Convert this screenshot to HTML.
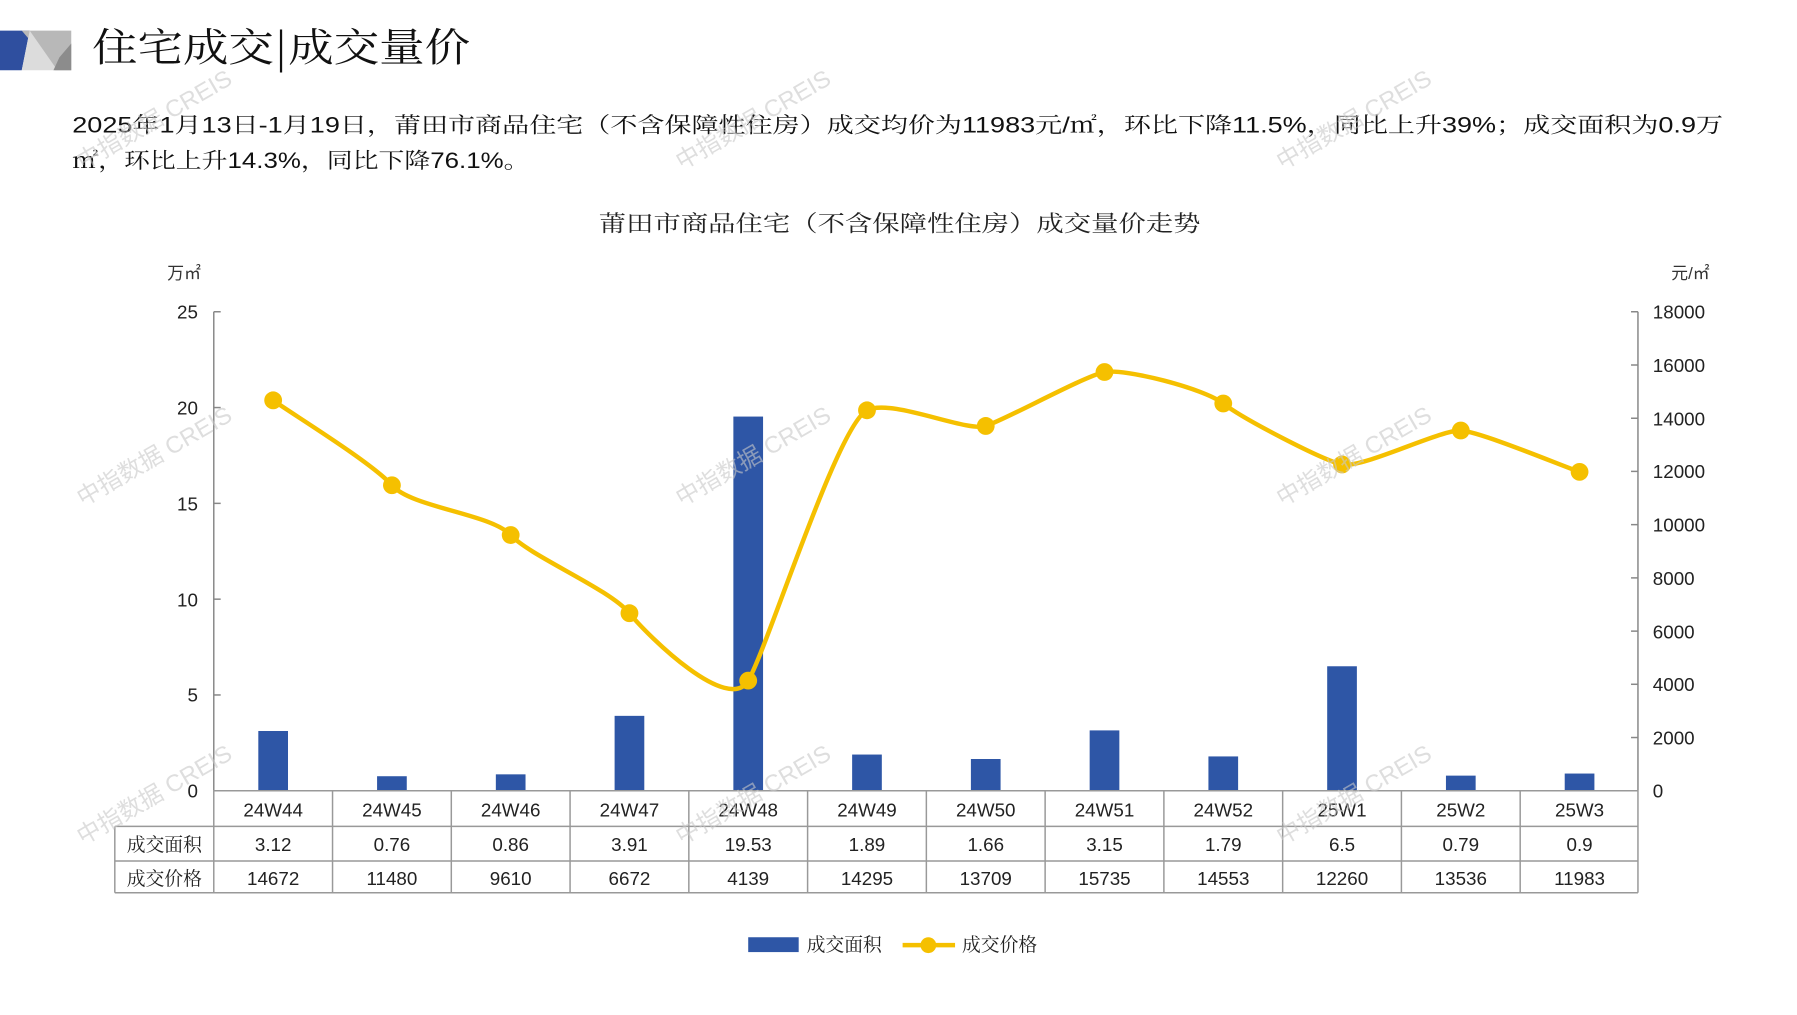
<!DOCTYPE html>
<html><head><meta charset="utf-8"><style>
html,body{margin:0;padding:0;background:#fff;}
body{width:1797px;height:1010px;position:relative;overflow:hidden;}
</style></head><body>
<svg width="1797" height="1010" viewBox="0 0 1797 1010" xmlns="http://www.w3.org/2000/svg" font-family="Liberation Sans, Noto Sans CJK SC, sans-serif">
<g transform="scale(0.9897)">
<!-- header icon -->
<polygon points="0,31 30,31 22,71 0,71" fill="#2f4f9f"/>
<polygon points="22,31 72,31 72,71 56,71" fill="#b8b8b8"/>
<polygon points="30,31 58,71 22,71" fill="#dcdcdc"/>
<polygon points="72,44 72,71 54,71 60,58" fill="#8c8c8c"/>
<text x="93" y="62" font-size="40" fill="#111" font-family="Noto Serif CJK SC, serif" textLength="382" lengthAdjust="spacingAndGlyphs">住宅成交|成交量价</text>
<!-- paragraph -->
<text x="73" y="134" font-size="22" fill="#111" font-family="Liberation Sans, Noto Serif CJK SC, serif" textLength="1668" lengthAdjust="spacingAndGlyphs">2025年1月13日-1月19日，莆田市商品住宅（不含保障性住房）成交均价为11983元/㎡，环比下降11.5%，同比上升39%；成交面积为0.9万</text>
<text x="73" y="170" font-size="22" fill="#111" font-family="Liberation Sans, Noto Serif CJK SC, serif" textLength="462" lengthAdjust="spacingAndGlyphs">㎡，环比上升14.3%，同比下降76.1%。</text>
<!-- chart title -->
<text x="605" y="234" font-size="23" fill="#222" font-family="Noto Serif CJK SC, serif" textLength="608" lengthAdjust="spacingAndGlyphs">莆田市商品住宅（不含保障性住房）成交量价走势</text>
<text x="186" y="282" font-size="17" fill="#333" text-anchor="middle">万㎡</text>
<text x="1708" y="282" font-size="17" fill="#333" text-anchor="middle">元/㎡</text>
<!-- axes -->
<g stroke="#888" stroke-width="1.5">
<line x1="216" y1="315" x2="216" y2="799"/>
<line x1="1655" y1="315" x2="1655" y2="799"/>
<line x1="216" y1="315" x2="223" y2="315"/><line x1="216" y1="411.8" x2="223" y2="411.8"/><line x1="216" y1="508.6" x2="223" y2="508.6"/><line x1="216" y1="605.4" x2="223" y2="605.4"/><line x1="216" y1="702.2" x2="223" y2="702.2"/>
<line x1="1648" y1="315" x2="1655" y2="315"/><line x1="1648" y1="368.8" x2="1655" y2="368.8"/><line x1="1648" y1="422.6" x2="1655" y2="422.6"/><line x1="1648" y1="476.3" x2="1655" y2="476.3"/><line x1="1648" y1="530.1" x2="1655" y2="530.1"/><line x1="1648" y1="583.9" x2="1655" y2="583.9"/><line x1="1648" y1="637.7" x2="1655" y2="637.7"/><line x1="1648" y1="691.4" x2="1655" y2="691.4"/><line x1="1648" y1="745.2" x2="1655" y2="745.2"/>
</g>
<g font-size="19" fill="#222" text-anchor="end">
<text x="200" y="322">25</text><text x="200" y="419">20</text><text x="200" y="516">15</text><text x="200" y="613">10</text><text x="200" y="709">5</text><text x="200" y="806">0</text>
</g>
<g font-size="19" fill="#222">
<text x="1670" y="322">18000</text><text x="1670" y="376">16000</text><text x="1670" y="430">14000</text><text x="1670" y="483">12000</text><text x="1670" y="537">10000</text><text x="1670" y="591">8000</text><text x="1670" y="645">6000</text><text x="1670" y="698">4000</text><text x="1670" y="752">2000</text><text x="1670" y="806">0</text>
</g>
<!-- bars -->
<g fill="#2e56a6">
<rect x="261" y="738.6" width="30" height="60.4"/>
<rect x="381" y="784.3" width="30" height="14.7"/>
<rect x="501" y="782.4" width="30" height="16.6"/>
<rect x="621" y="723.3" width="30" height="75.7"/>
<rect x="741" y="420.9" width="30" height="378.1"/>
<rect x="861" y="762.4" width="30" height="36.6"/>
<rect x="981" y="766.9" width="30" height="32.1"/>
<rect x="1101" y="738" width="30" height="61"/>
<rect x="1221" y="764.3" width="30" height="34.7"/>
<rect x="1341" y="673.2" width="30" height="125.8"/>
<rect x="1461" y="783.7" width="30" height="15.3"/>
<rect x="1581" y="781.6" width="30" height="17.4"/>
</g>
<!-- line -->
<path d="M276,404.5 C296,418.8 376,467.6 396,490.3 C416,513 496,519 516,540.6 C536,562.2 616,595.1 636,619.6 C656,644.1 736,721.9 756,687.7 C776,653.5 846,430 876,414.6 C900,402 976,436.9 996,430.4 C1016,424 1096,379.7 1116,375.9 C1136,372.1 1216,392.1 1236,407.7 C1256,423.3 1336,464.8 1356,469.3 C1376,473.8 1456,433.8 1476,435 C1496,436.3 1576,469.8 1596,476.8" fill="none" stroke="#f5c000" stroke-width="4.5"/>
<g fill="#f5c000">
<circle cx="276" cy="404.5" r="9"/><circle cx="396" cy="490.3" r="9"/><circle cx="516" cy="540.6" r="9"/><circle cx="636" cy="619.6" r="9"/><circle cx="756" cy="687.7" r="9"/><circle cx="876" cy="414.6" r="9"/><circle cx="996" cy="430.4" r="9"/><circle cx="1116" cy="375.9" r="9"/><circle cx="1236" cy="407.7" r="9"/><circle cx="1356" cy="469.3" r="9"/><circle cx="1476" cy="435" r="9"/><circle cx="1596" cy="476.8" r="9"/>
</g>
<!-- table -->
<g stroke="#999" stroke-width="1.5">
<line x1="216" y1="799" x2="1655" y2="799"/>
<line x1="116" y1="835" x2="1655" y2="835"/>
<line x1="116" y1="870" x2="1655" y2="870"/>
<line x1="116" y1="902" x2="1655" y2="902"/>
<line x1="116" y1="835" x2="116" y2="902"/>
<line x1="216" y1="799" x2="216" y2="902"/><line x1="336" y1="799" x2="336" y2="902"/><line x1="456" y1="799" x2="456" y2="902"/><line x1="576" y1="799" x2="576" y2="902"/><line x1="696" y1="799" x2="696" y2="902"/><line x1="816" y1="799" x2="816" y2="902"/><line x1="936" y1="799" x2="936" y2="902"/><line x1="1056" y1="799" x2="1056" y2="902"/><line x1="1176" y1="799" x2="1176" y2="902"/><line x1="1296" y1="799" x2="1296" y2="902"/><line x1="1416" y1="799" x2="1416" y2="902"/><line x1="1536" y1="799" x2="1536" y2="902"/><line x1="1655" y1="799" x2="1655" y2="902"/>
</g>
<g font-size="19" fill="#222" text-anchor="middle">
<text x="276" y="825">24W44</text><text x="396" y="825">24W45</text><text x="516" y="825">24W46</text><text x="636" y="825">24W47</text><text x="756" y="825">24W48</text><text x="876" y="825">24W49</text><text x="996" y="825">24W50</text><text x="1116" y="825">24W51</text><text x="1236" y="825">24W52</text><text x="1356" y="825">25W1</text><text x="1476" y="825">25W2</text><text x="1596" y="825">25W3</text>
<text x="166" y="860" font-family="Noto Serif CJK SC, serif">成交面积</text>
<text x="276" y="860">3.12</text><text x="396" y="860">0.76</text><text x="516" y="860">0.86</text><text x="636" y="860">3.91</text><text x="756" y="860">19.53</text><text x="876" y="860">1.89</text><text x="996" y="860">1.66</text><text x="1116" y="860">3.15</text><text x="1236" y="860">1.79</text><text x="1356" y="860">6.5</text><text x="1476" y="860">0.79</text><text x="1596" y="860">0.9</text>
<text x="166" y="894" font-family="Noto Serif CJK SC, serif">成交价格</text>
<text x="276" y="894">14672</text><text x="396" y="894">11480</text><text x="516" y="894">9610</text><text x="636" y="894">6672</text><text x="756" y="894">4139</text><text x="876" y="894">14295</text><text x="996" y="894">13709</text><text x="1116" y="894">15735</text><text x="1236" y="894">14553</text><text x="1356" y="894">12260</text><text x="1476" y="894">13536</text><text x="1596" y="894">11983</text>
</g>
<!-- legend -->
<rect x="756" y="947" width="51" height="15" fill="#2e56a6"/>
<text x="815" y="961" font-size="19" fill="#222" font-family="Noto Serif CJK SC, serif">成交面积</text>
<line x1="912" y1="955" x2="965" y2="955" stroke="#f5c000" stroke-width="4.5"/>
<circle cx="938" cy="955" r="8" fill="#f5c000"/>
<text x="972" y="961" font-size="19" fill="#222" font-family="Noto Serif CJK SC, serif">成交价格</text>
<!-- watermarks -->
<g font-size="24" fill="#c8c8c8" fill-opacity="0.6" text-anchor="middle">
<text transform="translate(160,128) rotate(-30)">中指数据 CREIS</text>
<text transform="translate(765,128) rotate(-30)">中指数据 CREIS</text>
<text transform="translate(1372,128) rotate(-30)">中指数据 CREIS</text>
<text transform="translate(160,468) rotate(-30)">中指数据 CREIS</text>
<text transform="translate(765,468) rotate(-30)">中指数据 CREIS</text>
<text transform="translate(1372,468) rotate(-30)">中指数据 CREIS</text>
<text transform="translate(160,810) rotate(-30)">中指数据 CREIS</text>
<text transform="translate(765,810) rotate(-30)">中指数据 CREIS</text>
<text transform="translate(1372,810) rotate(-30)">中指数据 CREIS</text>
</g>
</g>
</svg>
</body></html>
